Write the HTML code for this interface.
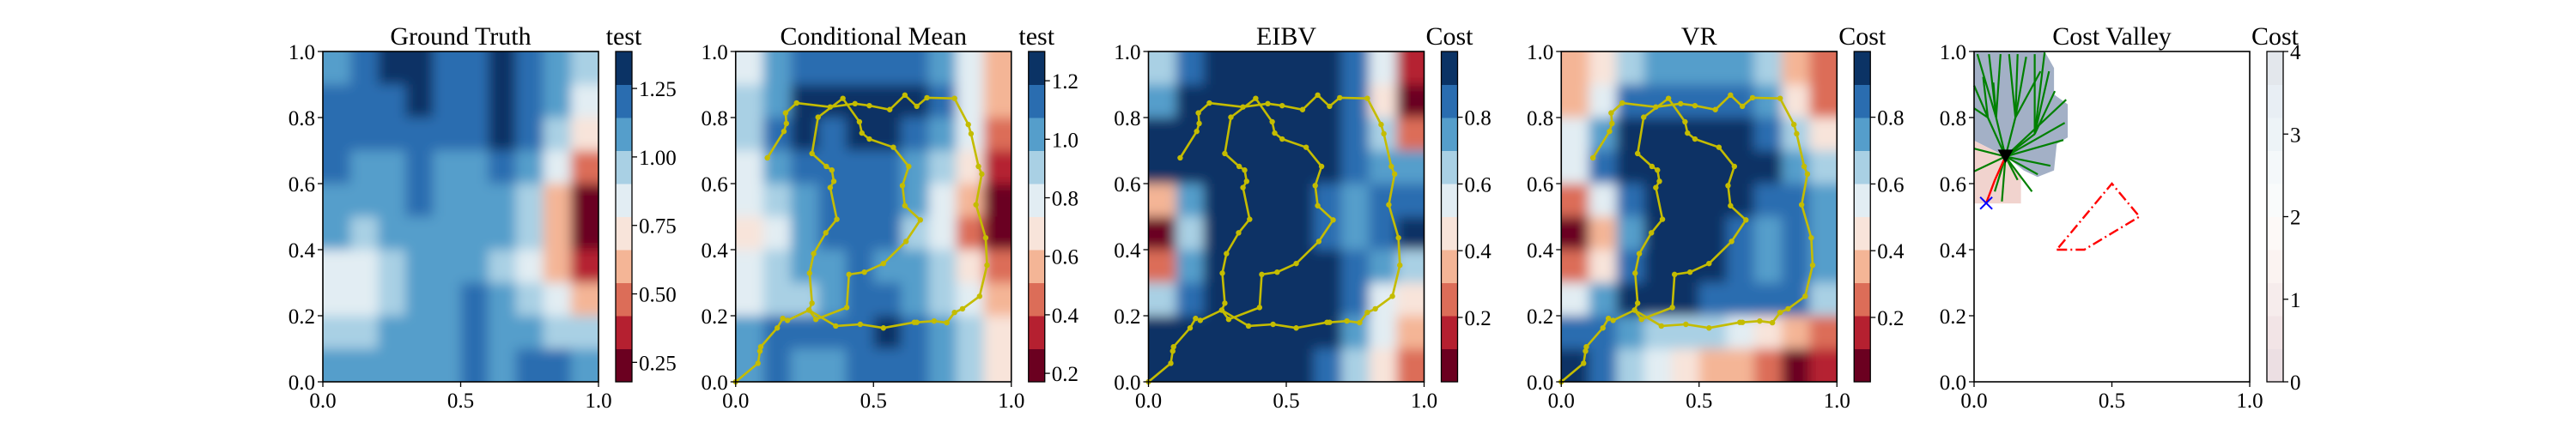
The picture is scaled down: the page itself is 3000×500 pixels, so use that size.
<!DOCTYPE html>
<html><head><meta charset="utf-8"><style>
body{margin:0;background:#fff}
svg{display:block;font-family:"Liberation Serif","DejaVu Serif",serif}
text{font-family:"Liberation Serif","DejaVu Serif",serif}
</style></head><body>
<svg id="fig" width="3000" height="500" viewBox="0 0 3000 500" xmlns="http://www.w3.org/2000/svg">
<defs><filter id="soft" x="-5%" y="-5%" width="110%" height="110%"><feGaussianBlur stdDeviation="7"/></filter></defs>
</svg>
<script>
// ---- data ----
const palette=["#6b0020","#b52030","#dc6d58","#f4b596","#f8e4da","#e2edf3","#a9d0e4","#559ecb","#2a6db0","#0b3365"];
const titles=["Ground Truth","Conditional Mean","EIBV","VR","Cost Valley"];
const cbLabels=["test","test","Cost","Cost","Cost"];
const cbMin=[0.179,0.171,0.007,0.007,0];
const cbMax=[1.385,1.30,0.997,0.997,4];
const cbTicks=[[0.25,0.5,0.75,1.0,1.25],[0.2,0.4,0.6,0.8,1.0,1.2],[0.2,0.4,0.6,0.8],[0.2,0.4,0.6,0.8],[0,1,2,3,4]];
const cbTickLabels=[["0.25","0.50","0.75","1.00","1.25"],["0.2","0.4","0.6","0.8","1.0","1.2"],["0.2","0.4","0.6","0.8"],["0.2","0.4","0.6","0.8"],["0","1","2","3","4"]];
const axisTicks=[0,0.2,0.4,0.6,0.8,1.0];
const axisTickLabels=["0.0","0.2","0.4","0.6","0.8","1.0"];
const xTicks=[0,0.5,1.0];
const xTickLabels=["0.0","0.5","1.0"];
const gtLevels=[
[7,8,9,9,8,8,9,8,7,6],
[8,8,8,9,8,8,9,8,7,5],
[8,8,8,8,8,8,9,8,6,4],
[8,7,7,8,7,7,8,7,5,2],
[7,7,7,8,7,7,7,6,3,0],
[7,6,7,7,7,7,7,6,3,0],
[5,5,6,7,7,7,6,5,3,1],
[5,5,6,7,7,8,7,6,5,3],
[6,6,7,7,7,8,7,7,6,6],
[7,7,7,7,7,8,7,8,8,7]];
const cmLevels=[
[5,7,8,8,8,8,8,7,5,3],
[6,7,9,9,9,9,9,8,5,3],
[6,8,9,8,9,9,8,7,5,2],
[5,7,8,8,8,8,7,6,4,1],
[5,6,7,8,8,8,7,5,3,0],
[4,5,7,8,8,8,6,5,2,0],
[5,6,7,7,8,7,7,6,4,2],
[5,6,6,7,8,8,7,6,5,3],
[7,8,8,8,8,9,8,7,6,4],
[7,8,7,7,8,8,8,7,6,4]];
const eibvLevels=[
[6,8,9,9,9,9,9,8,5,1],
[7,9,9,9,9,9,9,8,4,0],
[9,9,9,9,9,9,9,8,6,2],
[9,9,9,9,9,9,9,8,7,7],
[3,7,9,9,9,9,8,7,8,8],
[0,6,9,9,9,9,8,7,8,9],
[2,7,9,9,9,9,9,8,7,6],
[6,8,9,9,9,9,9,8,5,4],
[9,9,9,9,9,9,9,7,5,3],
[9,9,9,9,9,9,8,6,4,2]];
const vrLevels=[
[3,4,6,7,7,7,7,6,3,2],
[3,5,8,8,8,8,8,7,4,2],
[5,7,9,9,9,9,9,8,6,4],
[5,8,9,9,9,9,9,9,7,6],
[2,5,8,9,9,9,9,8,8,7],
[0,3,7,9,9,9,8,7,8,7],
[2,4,8,9,9,9,8,7,8,7],
[5,7,9,9,9,8,8,8,8,6],
[8,8,7,6,6,6,5,4,3,2],
[9,8,6,5,4,3,3,2,0,1]];
const pathX=[0,.081,.088,.091,.151,.171,.188,.266,.277,.268,.283,.327,.367,.343,.356,.349,.329,.277,.299,.389,.449,.458,.485,.572,.628,.605,.614,.670,.618,.536,.467,.411,.403,.291,.266,.363,.452,.536,.648,.657,.720,.766,.794,.823,.885,.912,.907,.872,.893,.881,.854,.844,.794,.694,.657,.614,.559,.485,.433,.343,.221,.181,.184,.175,.115];
const pathY=[0,.056,.093,.106,.163,.192,.186,.217,.238,.329,.388,.451,.492,.588,.607,.641,.652,.691,.801,.858,.787,.753,.735,.710,.652,.594,.533,.490,.425,.358,.332,.325,.225,.189,.217,.169,.174,.163,.180,.180,.184,.179,.210,.221,.259,.353,.436,.536,.629,.652,.751,.779,.858,.860,.834,.868,.824,.836,.842,.832,.844,.814,.782,.758,.678];
const grayRegionX=[0,.256,.29,.29,.34,.34,.30,.29,.23,.18,.12,0];
const grayRegionY=[1,1,.95,.87,.84,.74,.72,.64,.62,.64,.68,.73];
const pinkRegionX=[0,.12,.17,.17,0];
const pinkRegionY=[.73,.68,.62,.54,.54];
const treeX1=[.114,.114,.114,.114,.114,.114,.114,.114,.114,.114,.114,.114,.114,.114,.114,.08,.08,.08,.08,.15,.15,.15,.15,.22,.22,.22,.22,.05,.05,.05];
const treeY1=[.682,.682,.682,.682,.682,.682,.682,.682,.682,.682,.682,.682,.682,.682,.682,.80,.80,.80,.80,.80,.80,.80,.80,.75,.75,.75,.75,.80,.80,.80];
const treeX2=[.08,.15,.22,.05,.324,.277,.231,.210,.158,.101,.075,0,0,.329,.334,.012,.054,.096,.070,.127,.158,.189,.241,.220,.256,.272,.293,0,.033,0];
const treeY2=[.80,.80,.75,.80,.732,.654,.628,.576,.611,.546,.576,.637,.706,.784,.854,.992,.992,.992,.906,.992,.992,.984,.940,.992,.997,.940,.880,.897,.923,.828];
const polyX=[0.3,0.4,0.6,0.5,0.3];
const polyY=[0.4,0.4,0.5,0.6,0.4];
const agentX=[0.114], agentY=[0.682];
const targetX=[0.044], targetY=[0.541];
const routeX=[0.114,0.075,0.044], routeY=[0.682,0.61,0.541];
const costBands=["#ecdfe3","#f2e4e6","#f6ecec","#fbf3f1","#fdf9f7","#f9fbfb","#f4f8fa","#edf3f7","#e8eef4","#e3e7ec"];

// ---- drawing ----
const NS="http://www.w3.org/2000/svg";
const svg=document.getElementById('fig');
const defs=svg.querySelector('defs');
const L0=376,STEP=480.75,AW=321,AT=60,AH=385,CBOFF=341,CBW=19;
const FONT='"Liberation Serif", "DejaVu Serif", serif';
function px(p,v){return L0+STEP*p+v*AW;}
function py(v){return AT+AH*(1-v);}
function mk(tag,attrs,parent){const e=document.createElementNS(NS,tag);for(const k in attrs)e.setAttribute(k,attrs[k]);(parent||svg).appendChild(e);return e;}
function txt(s,x,y,size,anchor,parent){const t=mk('text',{x:x,y:y,'font-size':size,'text-anchor':anchor,fill:'#000','font-family':FONT},parent);t.textContent=s;return t;}
const grids=[gtLevels,cmLevels,eibvLevels,vrLevels];
for(let p=0;p<5;p++){
  const g=mk('g',{});
  
  
  const L=px(p,0);
  const cp=mk('clipPath',{id:'clip'+p},defs);
  mk('rect',{x:L,y:AT,width:AW,height:AH},cp);
  if(p<4){
    const grid=grids[p];
    const outer=mk('g',{'clip-path':'url(#clip'+p+')'},g);
    const hm=mk('g',{filter:'url(#soft)'},outer);
    
    
    for(let r=0;r<10;r++)for(let c=0;c<10;c++){
      let x0=px(p,c/10),y0=py(1-r/10),w=AW/10+0.6,h=AH/10+0.6;
      if(c===0){x0-=20;w+=20;} if(c===9){w+=20;}
      if(r===0){y0-=20;h+=20;} if(r===9){h+=20;}
      const rc=mk('rect',{x:x0,y:y0,width:w,height:h,fill:palette[grid[r][c]]},hm);
      
      
    }
    if(p>0){
      let d='';
      for(let i=0;i<pathX.length;i++)d+=(i?'L':'M')+px(p,pathX[i]).toFixed(1)+','+py(pathY[i]).toFixed(1);
      const pl=mk('path',{d:d,fill:'none',stroke:'#c4bc00','stroke-width':2.6,'stroke-linejoin':'round'},g);
      
      
      for(let i=0;i<pathX.length;i++){
        const c=mk('circle',{cx:px(p,pathX[i]),cy:py(pathY[i]),r:3.2,fill:'#c4bc00'},g);
        
        
      }
    }
  } else {
    const pts=(X,Y)=>X.map((v,i)=>px(p,v).toFixed(1)+','+py(Y[i]).toFixed(1)).join(' ');
    const gr=mk('polygon',{points:pts(grayRegionX,grayRegionY),fill:'#a3b0c6'},g);
    
    
    const pk=mk('polygon',{points:pts(pinkRegionX,pinkRegionY),fill:'#f1d3ce'},g);
    
    
    for(let i=0;i<treeX1.length;i++){
      const l=mk('line',{x1:px(p,treeX1[i]),y1:py(treeY1[i]),x2:px(p,treeX2[i]),y2:py(treeY2[i]),stroke:'#008000','stroke-width':2.2},g);
      
      
    }
    let d='';
    for(let i=0;i<routeX.length;i++)d+=(i?'L':'M')+px(p,routeX[i])+','+py(routeY[i]);
    const rt=mk('path',{d:d,fill:'none',stroke:'#ff0000','stroke-width':2.4},g);
    
    
    let d2='';
    for(let i=0;i<polyX.length;i++)d2+=(i?'L':'M')+px(p,polyX[i])+','+py(polyY[i]);
    const pg=mk('path',{d:d2,fill:'none',stroke:'#ff0000','stroke-width':2.4,'stroke-dasharray':'12,4,2,4'},g);
    
    
    const ax=px(p,agentX[0]),ay=py(agentY[0]);
    const tri=mk('polygon',{points:(ax-9)+','+(ay-8)+' '+(ax+9)+','+(ay-8)+' '+ax+','+(ay+8),fill:'#000'},g);
    
    
    const tx=px(p,targetX[0]),ty=py(targetY[0]);
    const xm=mk('path',{d:`M${tx-7},${ty-7}L${tx+7},${ty+7}M${tx-7},${ty+7}L${tx+7},${ty-7}`,stroke:'#0000ff','stroke-width':2},g);
    
    
  }
  const fr=mk('rect',{x:L,y:AT,width:AW,height:AH,fill:'none',stroke:'#000','stroke-width':1.6},g);
  
  
  for(let i=0;i<axisTicks.length;i++){
    const yy=py(axisTicks[i]);
    mk('line',{x1:L-6,y1:yy,x2:L,y2:yy,stroke:'#000','stroke-width':1.3},g);
    const t=txt(axisTickLabels[i],L-9,yy+9,25,'end',g);
    
    
  }
  for(let i=0;i<xTicks.length;i++){
    const xx=px(p,xTicks[i]);
    mk('line',{x1:xx,y1:AT+AH,x2:xx,y2:AT+AH+6,stroke:'#000','stroke-width':1.3},g);
    const t=txt(xTickLabels[i],xx,475,25,'middle',g);
    
    
  }
  const tt=txt(titles[p],L+AW/2,52,30,'middle',g);
  
  
  const cb=mk('g',{},g);
  
  
  const CX=L+CBOFF;
  const bands=p<4?palette:costBands;
  for(let i=0;i<10;i++){
    mk('rect',{x:CX,y:AT+AH-(i+1)*AH/10,width:CBW,height:AH/10+0.5,fill:bands[i]},cb);
  }
  mk('rect',{x:CX,y:AT,width:CBW,height:AH,fill:'none',stroke:'#000','stroke-width':1.3},cb);
  for(let i=0;i<cbTicks[p].length;i++){
    const f=(cbTicks[p][i]-cbMin[p])/(cbMax[p]-cbMin[p]);
    const yy=AT+AH*(1-f);
    mk('line',{x1:CX+CBW,y1:yy,x2:CX+CBW+6,y2:yy,stroke:'#000','stroke-width':1.3},cb);
    const t=txt(cbTickLabels[p][i],CX+CBW+8,yy+9,25,'start',cb);
    
    
  }
  const cl=txt(cbLabels[p],CX+CBW/2,52,30,'middle',cb);
  
  
  svg.appendChild(g);
}
</script>
</body></html>
